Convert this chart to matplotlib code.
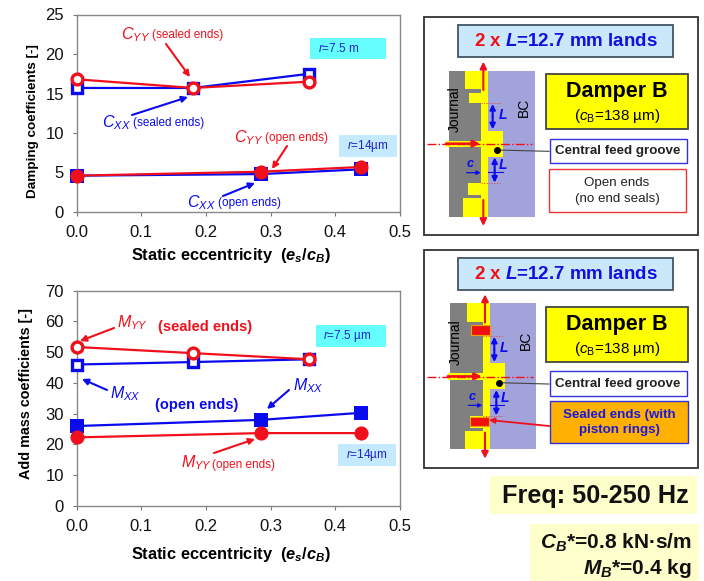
"""
damper force coefficients vs static eccentricity, with the two damper sketches
"""

import matplotlib
matplotlib.use('Agg')
import matplotlib.pyplot as plt
from matplotlib.patches import Rectangle, Polygon

plt.rcParams['font.family'] = ['Liberation Sans', 'DejaVu Sans']
plt.rcParams['mathtext.fontset'] = 'custom'
plt.rcParams['mathtext.rm'] = 'Liberation Sans'
plt.rcParams['mathtext.it'] = 'Liberation Sans:italic'
plt.rcParams['mathtext.bf'] = 'Liberation Sans:bold'
plt.rcParams['mathtext.bfit'] = 'Liberation Sans:italic:bold'

BLUE = '#0a0aee'
RED = '#f0101c'

ecc_sealed = [0.0, 0.18, 0.36]
ecc_open = [0.0, 0.285, 0.44]

cxx_sealed = [15.7, 15.7, 17.5]
cyy_sealed = [16.8, 15.7, 16.5]
cxx_open = [4.6, 4.8, 5.4]
cyy_open = [4.6, 5.1, 5.7]

mxx_sealed = [46.0, 46.8, 47.7]
myy_sealed = [51.7, 49.7, 47.7]
mxx_open = [26.0, 28.0, 30.3]
myy_open = [22.3, 23.7, 23.7]

xticks = [0.0, 0.1, 0.2, 0.3, 0.4, 0.5]
cticks = [0, 5, 10, 15, 20, 25]
mticks = [0, 10, 20, 30, 40, 50, 60, 70]

W, H = 704, 581
fig = plt.figure(figsize=(W / 100, H / 100), dpi=100)


def make_axes(left, top, right, bottom):
    return fig.add_axes([left / W, 1 - bottom / H, (right - left) / W, (bottom - top) / H])


def style_axes(ax, yticks, ylabel, ysize, ycoords, xpad):
    ax.set_xlim(0, 0.5)
    ax.set_ylim(yticks[0], yticks[-1])
    ax.set_xticks(xticks)
    ax.set_xticklabels(['%.1f' % x for x in xticks])
    ax.set_yticks(yticks)
    ax.tick_params(axis='both', labelsize=12, length=3, width=0.8, color='#777777', labelcolor='#111111')
    ax.tick_params(axis='x', pad=6.5)
    ax.tick_params(axis='y', pad=6)
    for sp in ax.spines.values():
        sp.set_color('#888888')
        sp.set_linewidth(1.0)
    ax.set_xlabel(r'Static eccentricity  ($\mathbfit{e_s}$/$\mathbfit{c_B}$)', fontsize=11.8,
                  fontweight='bold', labelpad=xpad)
    ax.xaxis.label.set_x(0.476)
    ax.set_ylabel(ylabel, fontsize=ysize, fontweight='bold')
    ax.yaxis.set_label_coords(ycoords[0], ycoords[1])


def plot_series(ax, x, y, color, marker, filled):
    if filled:
        ax.plot(x, y, color=color, lw=1.6, marker=marker, ms=10.2, mew=0, clip_on=False, zorder=3)
    else:
        ax.plot(x, y, color=color, lw=1.6, marker=marker, ms=7.8, mew=2.4, mec=color,
                mfc='white', clip_on=False, zorder=3)


ax1 = make_axes(76.5, 14.5, 400, 212)
plot_series(ax1, ecc_sealed, cxx_sealed, BLUE, 's', False)
plot_series(ax1, ecc_sealed, cyy_sealed, RED, 'o', False)
plot_series(ax1, ecc_open, cxx_open, BLUE, 's', True)
plot_series(ax1, ecc_open, cyy_open, RED, 'o', True)
style_axes(ax1, cticks, 'Damping coefficients [-]', 9.7, (-0.116, 0.461), 4)

ax2 = make_axes(76.5, 290.7, 400, 506)
plot_series(ax2, ecc_sealed, mxx_sealed, BLUE, 's', False)
plot_series(ax2, ecc_sealed, myy_sealed, RED, 'o', False)
plot_series(ax2, ecc_open, mxx_open, BLUE, 's', True)
plot_series(ax2, ecc_open, myy_open, RED, 'o', True)
style_axes(ax2, mticks, 'Add mass coefficients [-]', 10.4, (-0.136, 0.52), 7.5)

# overlay in pixel coordinates for the labels and sketches
ov = fig.add_axes([0, 0, 1, 1])
ov.set_xlim(0, W)
ov.set_ylim(H, 0)
ov.axis('off')


def arrow(x0, y0, x1, y1, color, lw=1.5, ms=9):
    ov.annotate('', xy=(x1, y1), xytext=(x0, y0),
                arrowprops=dict(arrowstyle='-|>', color=color, lw=lw, mutation_scale=ms,
                                shrinkA=0, shrinkB=0))


def box(x0, y0, x1, y1, face, edge='none', lw=1.0):
    ov.add_patch(Rectangle((x0, y0), x1 - x0, y1 - y0, facecolor=face, edgecolor=edge, lw=lw))


def label(x, y, s, color='black', size=10, **kw):
    kw.setdefault('ha', 'left')
    kw.setdefault('va', 'center')
    ov.text(x, y, s, color=color, fontsize=size, **kw)


def coef_label(x, y, sym, note, color, note_size=8.5):
    label(x, y, sym, color, 11.5)
    label(x + 31, y, note, color, note_size)


# top chart labels
coef_label(121, 35, r'$C_{YY}$', '(sealed ends)', RED, 8.5)
arrow(166, 44, 190, 77, RED)
coef_label(102, 123, r'$C_{XX}$', '(sealed ends)', BLUE, 8.5)
arrow(132, 115, 188, 97, BLUE)
coef_label(234, 138, r'$C_{YY}$', '(open ends)', RED, 8.5)
arrow(287, 146, 272, 169, RED)
coef_label(187, 203, r'$C_{XX}$', '(open ends)', BLUE, 8.5)
arrow(223, 196, 255, 183, BLUE)
box(310, 38, 386, 59, '#66ffff')
label(318, 48, r'$r$=7.5 m', '#2222cc', 8.5)
box(339, 135, 397, 157, '#c4eaff')
label(347, 146, r'$r$=14µm', '#2222cc', 8.5)

# bottom chart labels
label(117, 323, r'$M_{YY}$', RED, 11.5)
label(158, 327, '(sealed ends)', RED, 10.5, fontweight='bold')
arrow(114, 328, 80, 341, RED)
label(110, 394, r'$M_{XX}$', BLUE, 11.5)
arrow(107, 390, 82, 379, BLUE)
label(155, 405, '(open ends)', BLUE, 10.5, fontweight='bold')
label(293, 386, r'$M_{XX}$', BLUE, 11.5)
arrow(289, 390, 267, 409, BLUE)
label(181, 463, r'$M_{YY}$', RED, 11.5)
label(212, 465, '(open ends)', RED, 8.5)
arrow(214, 453, 255, 439, RED)
box(316, 325, 386, 347, '#66ffff')
label(323, 336, r'$r$=7.5 µm', '#2222cc', 8.5)
box(338, 444, 396, 466, '#c4eaff')
label(346, 455, r'$r$=14µm', '#2222cc', 8.5)


def damper(y_off, dx, sealed):
    # positions follow the sketch outline, u and v are sketch units (1/3 px)
    px = lambda u: 420 + (u + dx) / 3
    py = lambda v: y_off + v / 3
    rect = lambda u0, v0, u1, v1, face, edge='none', lw=1.0: box(px(u0), py(v0), px(u1), py(v1), face, edge, lw)

    box(424, py(52), 698, py(706), 'white', '#333333', 1.3)

    # title box
    box(458, py(75), 673, py(172), '#c9e9fb', '#445566', 1.3)
    label(474, py(124), r'$\mathbf{2\ x}$', RED, 13.5, fontweight='bold')
    label(505, py(124), r'$\mathbfit{L}$' + '=12.7 mm lands', '#1010e0', 13.5, fontweight='bold')

    # journal, bearing cartridge and oil film
    rect(86, 212, 186, 650, '#808080')
    rect(204, 212, 344, 650, '#a3a3dc')
    yellow = '#ffff00'
    ov.add_patch(Polygon([(px(u), py(v)) for u, v in [
        (135, 212), (204, 212), (204, 392), (250, 392), (250, 470), (204, 470), (204, 650),
        (129, 650), (129, 595), (183, 595), (183, 585), (145, 585), (145, 550), (183, 550),
        (183, 442), (78, 442), (78, 422), (183, 422), (183, 310), (147, 310), (147, 278),
        (183, 278), (183, 268), (135, 268)]], closed=True, facecolor=yellow, edgecolor='none'))

    if sealed:
        rect(147, 278, 205, 307, '#f01010', '#f0a000', 0.8)
        rect(145, 552, 202, 580, '#f01010', '#f0a000', 0.8)

    # flow arrows and centre line
    arrow(px(190), py(270), px(190), py(185), RED, 1.5, 10)
    arrow(px(190), py(600), px(190), py(678), RED, 1.5, 10)
    ov.plot([px(20 - dx), px(335)], [py(432), py(432)], color=RED, lw=1.0, ls='-.')
    arrow(px(78), py(431), px(180), py(431), RED, 1.8, 10)
    ov.plot([px(183), px(243)], [py(310), py(310)], color='#e04040', lw=0.7, ls=':')
    ov.plot([px(183), px(243)], [py(550), py(550)], color='#e04040', lw=0.7, ls=':')

    # land lengths and clearance
    arrow(px(218), py(350), px(218), py(312), BLUE, 1.5, 8)
    arrow(px(218), py(350), px(218), py(388), BLUE, 1.5, 8)
    arrow(px(224), py(510), px(224), py(472), BLUE, 1.5, 8)
    arrow(px(224), py(510), px(224), py(548), BLUE, 1.5, 8)
    ov.plot([px(205), px(248)], [py(516), py(516)], color=BLUE, lw=0.8)
    arrow(px(140), py(518), px(182), py(518), BLUE, 0.9, 6)
    label(px(247), py(345), r'$\mathbfit{L}$', BLUE, 10, ha='center')
    label(px(249), py(495), r'$\mathbfit{L}$', BLUE, 10, ha='center')
    label(px(151), py(493), r'$\mathbfit{c}$', BLUE, 9, ha='center')

    label(px(103), py(328), 'Journal', 'black', 10, rotation=90, ha='center')
    label(px(313), py(322), 'BC', 'black', 10, rotation=90, ha='center')

    # feed groove pointer
    ov.plot([px(232), 549], [py(450), py(454)], color='#444444', lw=0.8)
    ov.plot([px(232)], [py(450)], 'o', color='black', ms=4)

    # side boxes
    box(546, py(222), 688, py(388), yellow, '#444444', 1.3)
    label(617, py(276), 'Damper B', 'black', 15.5, ha='center', fontweight='bold')
    label(617, py(349), r'($\mathit{c}_{\mathrm{B}}$=138 µm)', 'black', 11, ha='center')
    box(549.5, py(416), 686.5, py(490), 'white', '#3030dd', 1.0)
    label(618, py(453), 'Central feed groove', '#222222', 9.6, ha='center', fontweight='bold')
    if sealed:
        box(549.5, py(506), 688, py(632), '#ffb000', '#3030dd', 1.0)
        label(619, py(547), 'Sealed ends (with', '#1818e0', 9.6, ha='center', fontweight='bold')
        label(619, py(593), 'piston rings)', '#1818e0', 9.6, ha='center', fontweight='bold')
        arrow(549.5, py(580), px(202), py(562), RED, 1.3, 8)
    else:
        box(549, py(508), 686, py(637), 'white', '#ee3333', 1.0)
        label(617, py(549), 'Open ends', '#222222', 9.6, ha='center')
        label(617, py(597), '(no end seals)', '#222222', 9.6, ha='center')


damper(0, 0, False)
damper(232.7, 5, True)

# operating condition notes
box(490, 476, 697, 514, '#ffffcc')
label(595, 496, 'Freq: 50-250 Hz', '#111111', 18.2, ha='center', fontweight='bold')
box(530, 524, 699, 581, '#ffffcc')
label(692, 543, r'$\mathbfit{C_B}$*=0.8 kN·s/m', '#111111', 15, ha='right', fontweight='bold')
label(692, 568, r'$\mathbfit{M_B}$*=0.4 kg', '#111111', 15, ha='right', fontweight='bold')

plt.savefig('out.png', dpi=100)
